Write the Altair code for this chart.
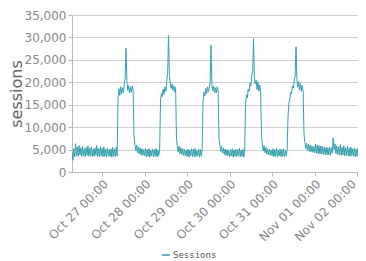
import altair as alt
import pandas as pd

# ---- data (30-minute samples) ----
oct26 = [4200, 2600, 5200, 3400, 6300, 3600, 5600, 3500, 5900, 3800,
         5400, 3500, 5700, 3600, 5200, 3400, 5500, 3700, 5800, 3500,
         5300, 3600, 5600, 3400, 5100, 3500, 5400, 3700, 5900, 3500,
         5200, 3400, 5600, 3600]  # starts 07:00
oct27 = [5300, 3400, 5600, 3500, 5100, 3300, 5400, 3600, 5000, 3400, 5200, 3300, 5500, 3500, 5100, 3400, 5600, 3600,
         16500, 18600, 17100, 19000, 17400, 18800, 17700, 19400, 21000, 27600, 20400, 18200, 19300, 17600, 18900, 17800, 19200, 18300,
         8000, 6200, 4800, 6000, 4300, 5600, 4000, 5400, 3800, 5200, 3700, 5000]
oct28 = [3600, 5300, 3400, 5000, 3500, 5200, 3300, 4900, 3600, 5100, 3400, 5000, 3500, 5300, 3300, 4900, 3600, 5200,
         16000, 17500, 16800, 18400, 17300, 19000, 18000, 20200, 22000, 30400, 21500, 19800, 18600, 19600, 18200, 19200, 17800, 18900,
         7500, 5600, 4500, 5800, 4100, 5400, 3900, 5200, 3700, 5000, 3600, 4900]
oct29 = [3500, 5100, 3300, 4900, 3600, 5200, 3400, 5000, 3500, 5300, 3400, 4800, 3600, 5100, 3300, 5000, 3500, 5200,
         15500, 17800, 17000, 18600, 17400, 19000, 17900, 18700, 20000, 28300, 19500, 18100, 19100, 17700, 18800, 17600, 19000, 18200,
         7800, 5900, 4600, 5700, 4200, 5300, 3900, 5100, 3700, 5000, 3600, 4800]
oct30 = [3400, 5000, 3600, 5200, 3300, 4900, 3500, 5100, 3400, 5000, 3600, 5300, 3400, 4900, 3500, 5100, 3300, 5000,
         15000, 17200, 16500, 18500, 18000, 19800, 19200, 21500, 22300, 29700, 21000, 19600, 20500, 18400, 20100, 18000, 19400, 17800,
         8200, 6200, 4700, 5900, 4300, 5500, 4000, 5200, 3800, 5100, 3700, 4900]
oct31 = [3600, 5200, 3400, 5000, 3500, 5300, 3300, 4900, 3600, 5100, 3400, 5000, 3500, 5200, 3400, 4800, 3600, 5100,
         12500, 15500, 16200, 17800, 17400, 19200, 18700, 20500, 21200, 27900, 20600, 18900, 20200, 18300, 19700, 18000, 19300, 18100,
         8500, 6600, 5200, 6400, 4800, 6200, 4600, 6000, 4500, 5800, 4400, 5700]
nov01 = [4300, 6200, 4200, 6000, 4100, 5900, 4000, 5800, 4000, 5700, 3900, 5600, 3900, 5500, 3800, 5400, 3800, 5500,
         3700, 5400, 4200, 7600, 5000, 6300, 4100, 5800, 3900, 5600, 3800, 6100, 3700, 5500, 3800, 5900, 3600, 5400,
         3700, 5700, 3600, 5300, 3500, 5600, 3600, 5200, 3500, 5400, 3400, 5100]
nov02 = [3500, 5300, 3400, 5000, 3600, 5200, 3300, 4900, 3500, 5100, 3400]

day_starts = ["2016-10-26 07:00", "2016-10-27 00:00", "2016-10-28 00:00", "2016-10-29 00:00",
              "2016-10-30 00:00", "2016-10-31 00:00", "2016-11-01 00:00", "2016-11-02 00:00"]
day_values = [oct26, oct27, oct28, oct29, oct30, oct31, nov01, nov02]

tick_dates = ["2016-10-27T00:00:00", "2016-10-28T00:00:00", "2016-10-29T00:00:00", "2016-10-30T00:00:00",
              "2016-10-31T00:00:00", "2016-11-01T00:00:00", "2016-11-02T00:00:00"]
x_domain = ["2016-10-26T07:00:00", "2016-11-02T00:30:00"]
y_ticks = [0, 5000, 10000, 15000, 20000, 25000, 30000, 35000]

rows = []
for start, vals in zip(day_starts, day_values):
    times = pd.date_range(start, periods=len(vals), freq="30min")
    for t, v in zip(times, vals):
        rows.append({"time": t.strftime("%Y-%m-%dT%H:%M:%S"), "sessions": v, "series": "Sessions"})
df = pd.DataFrame(rows)

teal = "#35A0AD"

chart = alt.Chart(df).mark_line(strokeWidth=1, clip=True).encode(
    x=alt.X("time:T", title=None,
            scale=alt.Scale(domain=x_domain),
            axis=alt.Axis(values=tick_dates, format="%b %d %H:%M", labelAngle=-45,
                          labelOverlap=False, labelBound=False,
                          labelOffset={"condition": {"test": "datum.value >= datetime(2016, 10, 2)", "value": -7},
                                       "value": 0},
                          grid=False, labelFont="DejaVu Sans", labelFontSize=12,
                          labelColor="#888", tickColor="#bbb", domainColor="#bbb",
                          tickSize=4, labelPadding=2)),
    y=alt.Y("sessions:Q", title="sessions",
            scale=alt.Scale(domain=[0, 35000], nice=False),
            axis=alt.Axis(values=y_ticks, format=",d", grid=True, gridColor="#d0d0d0",
                          labelOverlap=False,
                          labelFont="DejaVu Sans", labelFontSize=12, labelColor="#888",
                          titleFont="DejaVu Sans", titleFontSize=16, titleFontWeight="normal",
                          titleColor="#666", tickColor="#bbb", domainColor="#bbb",
                          tickSize=4, labelPadding=2, titlePadding=0)),
    color=alt.Color("series:N", title=None,
                    scale=alt.Scale(domain=["Sessions"], range=[teal]),
                    legend=alt.Legend(orient="none", legendX=89, legendY=235,
                                      symbolType="stroke", symbolSize=60, symbolStrokeWidth=1.5,
                                      labelFont="DejaVu Sans Mono", labelFontSize=9,
                                      labelColor="#555", padding=0, labelOffset=2)),
).properties(
    width=286, height=157,
    autosize=alt.AutoSizeParams(type="none"),
    padding={"left": 64, "top": 7, "right": 0, "bottom": 88},
).configure_view(stroke=None)

chart.save("out.html", embed_options={"renderer": "svg", "actions": False})
